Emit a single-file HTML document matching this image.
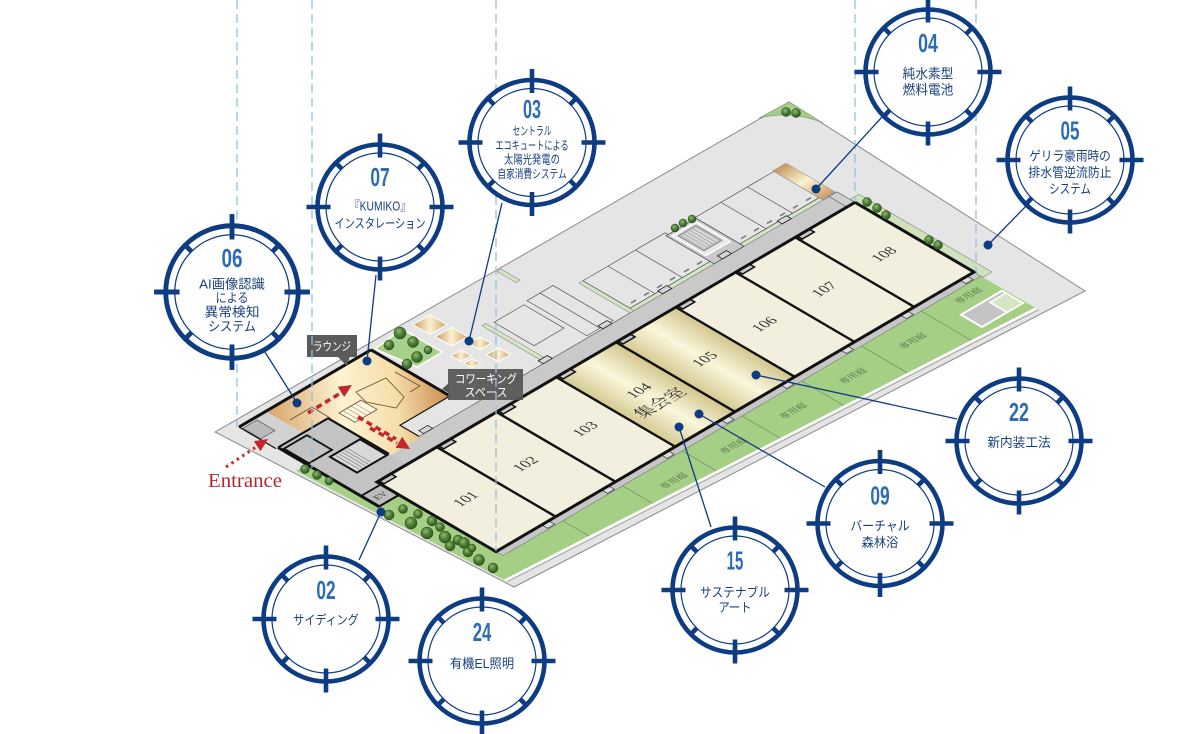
<!DOCTYPE html>
<html><head><meta charset="utf-8">
<style>
html,body{margin:0;padding:0;background:#fff;}
svg{display:block;}
text{font-family:"Liberation Sans","Noto Sans CJK JP",sans-serif;}
.iso *{vector-effect:non-scaling-stroke;}
.num{font-family:"Liberation Sans Narrow","Liberation Sans",sans-serif;font-weight:700;font-size:26px;fill:#2b6cb4;}
.lb{font-size:13px;fill:#17407e;}
.ser,.ser text{font-family:"Liberation Serif","Noto Serif CJK JP",serif;}
.jser,.jser text{font-family:"Noto Serif CJK JP","Noto Serif CJK SC",serif;}
</style></head><body>
<svg width="1200" height="734" viewBox="0 0 1200 734" xmlns="http://www.w3.org/2000/svg">
<defs>
 <radialGradient id="tree" cx="0.4" cy="0.35" r="0.7">
  <stop offset="0" stop-color="#8fbb6c"/><stop offset="0.5" stop-color="#4d7e36"/><stop offset="1" stop-color="#2a531f"/>
 </radialGradient>
 <linearGradient id="lounge" gradientUnits="userSpaceOnUse" x1="255" y1="420" x2="452" y2="395">
  <stop offset="0" stop-color="#d29656"/><stop offset="0.45" stop-color="#fdf3d2"/><stop offset="0.72" stop-color="#f5ddaa"/><stop offset="1" stop-color="#c88847"/>
 </linearGradient>
 <linearGradient id="gold" x1="0" y1="0" x2="1" y2="0">
  <stop offset="0" stop-color="#d5ca93"/><stop offset="0.5" stop-color="#fbf7dc"/><stop offset="1" stop-color="#d2c68d"/>
 </linearGradient>
 <linearGradient id="tan" x1="0" y1="0" x2="1" y2="1">
  <stop offset="0" stop-color="#c99a5b"/><stop offset="0.5" stop-color="#fbf1d3"/><stop offset="1" stop-color="#d1a267"/>
 </linearGradient>
 <linearGradient id="tan2" x1="0" y1="0" x2="0" y2="1">
  <stop offset="0" stop-color="#c8995c"/><stop offset="0.5" stop-color="#fbf2d2"/><stop offset="1" stop-color="#cf9d62"/>
 </linearGradient>
 <g id="ring">
  <circle r="62.5" fill="#fff" stroke="#0e3c82" stroke-width="4.6"/>
  <circle r="54" fill="none" stroke="#0e3c82" stroke-width="1.2"/>
  <g stroke="#0e3c82" stroke-width="4.6">
   <line x1="0" y1="-73.5" x2="0" y2="-49.5"/>
   <line x1="0" y1="73.5" x2="0" y2="49.5"/>
   <line x1="-73.5" y1="0" x2="-49.5" y2="0"/>
   <line x1="73.5" y1="0" x2="49.5" y2="0"/>
   <line x1="37.8" y1="37.8" x2="45" y2="45"/>
   <line x1="-37.8" y1="37.8" x2="-45" y2="45"/>
   <line x1="37.8" y1="-37.8" x2="45" y2="-45"/>
   <line x1="-37.8" y1="-37.8" x2="-45" y2="-45"/>
  </g>
 </g>
</defs>

<!-- lot -->
<polygon points="215,432 789,102 1085,291 514,587" fill="#e5e5e5" stroke="#8a8a8a" stroke-width="1"/>
<path d="M759,118 L789,102 L823,123 Q792,110 759,118 Z" fill="#a4cf84" stroke="#888" stroke-width="0.6"/>

<g class="iso" transform="matrix(1,-0.585,1,0.585,377,482)">
 <!-- green -->
 <polygon points="-31,-50 -20,-50 -20,22 0,22 0,126 478,126 478,181 -20,148" fill="#a4cf84"/>
 <g stroke="#6f8f5f" stroke-width="0.7">
  <line x1="59.75" y1="126" x2="59.75" y2="153.3"/>
  <line x1="119.5" y1="126" x2="119.5" y2="157.2"/>
  <line x1="179.25" y1="126" x2="179.25" y2="161.2"/>
  <line x1="239" y1="126" x2="239" y2="165.2"/>
  <line x1="298.75" y1="126" x2="298.75" y2="169.1"/>
  <line x1="358.5" y1="126" x2="358.5" y2="173.1"/>
  <line x1="418.25" y1="126" x2="418.25" y2="177"/>
 </g>
 <line x1="-20" y1="148" x2="478" y2="181" stroke="#fff" stroke-width="2.2"/>
 <line x1="-20" y1="150.5" x2="478" y2="183.5" stroke="#999" stroke-width="0.8"/>
 <rect x="0" y="119" width="478" height="7" fill="#c6c6c6" stroke="#777" stroke-width="0.6"/>
 <rect x="478" y="-5" width="9" height="133" fill="#cfe2bb" stroke="#888" stroke-width="0.6"/>
 <rect x="435" y="149" width="41" height="21" fill="#c4c4c4" stroke="#fff" stroke-width="2"/>
 <rect x="460" y="153" width="16" height="17" fill="#d4e6c4" stroke="#fff" stroke-width="1.5"/>
 <!-- walkway meter boxes -->
 <g fill="#ddd" stroke="#333" stroke-width="0.7">
  <rect x="45.75" y="120" width="7" height="5"/><rect x="105.5" y="120" width="7" height="5"/>
  <rect x="165.25" y="120" width="7" height="5"/><rect x="225" y="120" width="7" height="5"/>
  <rect x="284.75" y="120" width="7" height="5"/><rect x="344.5" y="120" width="7" height="5"/>
  <rect x="404.25" y="120" width="7" height="5"/><rect x="464" y="120" width="7" height="5"/>
 </g>
 <!-- garden labels -->
 <g class="jser" font-size="8" fill="#55684a" text-anchor="middle">
  <text x="149.4" y="150">専用庭</text><text x="209.1" y="150">専用庭</text>
  <text x="268.9" y="150">専用庭</text><text x="328.6" y="150">専用庭</text>
  <text x="388.4" y="150">専用庭</text><text x="455" y="139">専用庭</text>
 </g>

 <!-- corridor -->
 <rect x="-5" y="-18" width="483" height="18" fill="#c9c9c9"/>
 <line x1="30" y1="-18" x2="478" y2="-18" stroke="#666" stroke-width="0.8"/>
 <!-- entrance hall / core -->
 <polygon points="-22,-116 5,-116 5,-79 -22,-79" fill="#d2d2d2"/>
 <rect x="-21" y="-113" width="14" height="18" fill="#bbb" stroke="#666" stroke-width="0.8"/>
 <polygon points="-20,-79 30,-79 30,0 0,0 0,22 -20,22" fill="#c3c3c3"/>
 <rect x="-2" y="-45" width="30" height="27" fill="#d8d8d8" stroke="#111" stroke-width="2"/>
 <g stroke="#777" stroke-width="0.6">
  <line x1="2" y1="-43" x2="2" y2="-20"/><line x1="5" y1="-43" x2="5" y2="-20"/><line x1="8" y1="-43" x2="8" y2="-20"/>
  <line x1="11" y1="-43" x2="11" y2="-20"/><line x1="14" y1="-43" x2="14" y2="-20"/>
 </g>
 <rect x="-18" y="-75" width="23" height="25" fill="none" stroke="#111" stroke-width="1.8"/>
 <rect x="-20" y="4" width="20" height="18" fill="#bdbdbd" stroke="#111" stroke-width="1.8"/>
 <text x="-10" y="16" class="ser" font-size="8" fill="#333" text-anchor="middle">EV</text>

 <!-- parking -->
 <g fill="#d3e5c2" stroke="#8a8a8a" stroke-width="0.6">
  <rect x="186" y="-81" width="4" height="63"/>
  <rect x="240" y="-120" width="4" height="19"/>
  <rect x="271" y="-69" width="4" height="51"/>
  <rect x="275" y="-22" width="82" height="4"/>
  <rect x="385" y="-22" width="79" height="4"/>
 </g>
 <g fill="none" stroke="#555" stroke-width="0.7">
  <rect x="275" y="-69" width="82" height="47"/>
  <line x1="300" y1="-69" x2="300" y2="-22"/><line x1="327.5" y1="-69" x2="327.5" y2="-22"/>
  <rect x="385" y="-67" width="79" height="45"/>
  <line x1="411" y1="-67" x2="411" y2="-22"/><line x1="437.5" y1="-67" x2="437.5" y2="-22"/>
  <rect x="230" y="-80" width="26" height="60"/>
  <line x1="243" y1="-80" x2="243" y2="-20"/>
  <rect x="195" y="-78" width="30" height="40"/>
 </g>
 <g stroke="#7a7a7a" stroke-width="1.6">
  <line x1="280" y1="-26" x2="285" y2="-26"/><line x1="293" y1="-26" x2="298" y2="-26"/>
  <line x1="306" y1="-26" x2="311" y2="-26"/><line x1="319" y1="-26" x2="324" y2="-26"/>
  <line x1="333" y1="-26" x2="338" y2="-26"/><line x1="346" y1="-26" x2="351" y2="-26"/>
  <line x1="390" y1="-26" x2="395" y2="-26"/><line x1="403" y1="-26" x2="408" y2="-26"/>
  <line x1="416" y1="-26" x2="421" y2="-26"/><line x1="429" y1="-26" x2="434" y2="-26"/>
  <line x1="442" y1="-26" x2="447" y2="-26"/><line x1="455" y1="-26" x2="460" y2="-26"/>
 </g>
 <rect x="355" y="-66" width="30" height="48" fill="#c9c9c9" stroke="#555" stroke-width="0.8"/>
 <rect x="358" y="-63" width="24" height="34" fill="#e8e8e8" stroke="#fff" stroke-width="1.4"/>
 <rect x="361" y="-60" width="18" height="26" fill="#bdbdbd" stroke="#666" stroke-width="0.6"/>
 <g stroke="#fff" stroke-width="0.7">
  <line x1="364" y1="-58" x2="364" y2="-36"/><line x1="367" y1="-58" x2="367" y2="-36"/>
  <line x1="370" y1="-58" x2="370" y2="-36"/><line x1="373" y1="-58" x2="373" y2="-36"/><line x1="376" y1="-58" x2="376" y2="-36"/>
 </g>
 <rect x="464" y="-68" width="13" height="49" fill="url(#tan2)" stroke="#999" stroke-width="0.6"/>
 <rect x="470" y="-18" width="8" height="18" fill="#d0d0d0" stroke="#555" stroke-width="0.6"/>

 <!-- units -->
 <g stroke="none">
  <rect x="0" y="0" width="59.75" height="119" fill="#f3efdf"/>
  <rect x="59.75" y="0" width="59.75" height="119" fill="#f3efdf"/>
  <rect x="119.5" y="0" width="59.75" height="119" fill="#f3efdf"/>
  <rect x="179.25" y="0" width="59.75" height="119" fill="url(#gold)"/>
  <rect x="239" y="0" width="59.75" height="119" fill="url(#gold)"/>
  <rect x="298.75" y="0" width="59.75" height="119" fill="#f3efdf"/>
  <rect x="358.5" y="0" width="59.75" height="119" fill="#f3efdf"/>
  <rect x="418.25" y="0" width="59.75" height="119" fill="#f3efdf"/>
 </g>
</g>

<!-- lounge (screen coords) -->
<polygon points="266,411.2 371,349.7 450,396 400,425.3 421,437.5 391,455 328,418.2 303,432.9" fill="url(#lounge)"/>
<polygon points="375,349 402,329 442,352 417,367" fill="#a7d08a" stroke="#fff" stroke-width="1.5"/>
<g fill="none" stroke="#6b4a2a" stroke-width="0.8">
 <polygon points="356,392 386,378 404,397 396,408 366,402"/>
 <polyline points="290,420 312,407 330,418"/>
 <polyline points="395,372 420,386 410,392"/>
</g>

<g class="iso" transform="matrix(1,-0.585,1,0.585,377,482)">
 <!-- coworking squares -->
 <g fill="url(#tan)" stroke="#fff" stroke-width="1">
  <rect x="152.5" y="-116.5" width="17" height="17"/>
  <rect x="153.5" y="-95" width="16" height="16"/>
  <rect x="164.5" y="-72.5" width="11" height="11"/>
  <rect x="145" y="-71" width="10" height="10"/>
  <rect x="145" y="-58" width="8" height="8"/>
  <rect x="163.5" y="-54" width="12" height="12"/>
 </g>
 <!-- lounge stair -->
 <rect x="40" y="-78" width="22" height="16" fill="#fff8e0" stroke="#6b4a2a" stroke-width="0.8"/>
 <g stroke="#8a6a4a" stroke-width="0.5">
  <line x1="44" y1="-78" x2="44" y2="-62"/><line x1="48" y1="-78" x2="48" y2="-62"/>
  <line x1="52" y1="-78" x2="52" y2="-62"/><line x1="56" y1="-78" x2="56" y2="-62"/>
 </g>
 <!-- corridor boxes & alcoves -->
 <g fill="#d6d6d6" stroke="#222" stroke-width="0.8">
  <rect x="64.75" y="-23" width="9" height="5"/><rect x="124.5" y="-23" width="9" height="5"/>
  <rect x="184.25" y="-23" width="9" height="5"/><rect x="244" y="-23" width="9" height="5"/>
  <rect x="303.75" y="-23" width="9" height="5"/><rect x="363.5" y="-23" width="9" height="5"/>
  <rect x="423.25" y="-23" width="9" height="5"/>
 </g>
 <g fill="#c9c9c9" stroke="#111" stroke-width="1.5">
  <rect x="2" y="0" width="12" height="5"/><rect x="61.75" y="0" width="12" height="5"/>
  <rect x="121.5" y="0" width="12" height="5"/><rect x="181.25" y="0" width="12" height="5"/>
  <rect x="241" y="0" width="12" height="5"/><rect x="300.75" y="0" width="12" height="5"/>
  <rect x="360.5" y="0" width="12" height="5"/><rect x="420.25" y="0" width="12" height="5"/>
 </g>
 <!-- walls -->
 <g stroke="#111" fill="none">
  <rect x="0" y="0" width="478" height="119" stroke-width="3"/>
  <g stroke-width="2.4">
   <line x1="59.75" y1="0" x2="59.75" y2="119"/><line x1="119.5" y1="0" x2="119.5" y2="119"/>
   <line x1="179.25" y1="0" x2="179.25" y2="119"/><line x1="239" y1="0" x2="239" y2="119"/>
   <line x1="298.75" y1="0" x2="298.75" y2="119"/><line x1="358.5" y1="0" x2="358.5" y2="119"/>
   <line x1="418.25" y1="0" x2="418.25" y2="119"/>
  </g>
  <line x1="-22" y1="-116" x2="110" y2="-116" stroke-width="3"/>
  <line x1="110" y1="-116" x2="110" y2="-37" stroke-width="3"/>
  <polyline points="110,-37 60,-37 60,-18" stroke-width="1.2"/>
  <line x1="-20" y1="-79" x2="-20" y2="22" stroke-width="3"/>
  <line x1="-20" y1="-79" x2="30" y2="-79" stroke-width="2"/>
  <line x1="30" y1="-79" x2="30" y2="-18" stroke-width="2.2"/>
  <line x1="-22" y1="-116" x2="-22" y2="-79" stroke-width="1.2"/>
  <line x1="-20" y1="22" x2="0" y2="22" stroke-width="2"/>
 </g>
 <!-- unit labels -->
 <g class="ser" font-size="13" fill="#333" text-anchor="middle">
  <text x="29.9" y="63">101</text><text x="89.6" y="63">102</text>
  <text x="149.4" y="63">103</text><text x="209.1" y="57">104</text>
  <text x="268.9" y="63">105</text><text x="328.6" y="63">106</text>
  <text x="388.4" y="63">107</text><text x="448.1" y="63">108</text>
 </g>
 <text x="209.1" y="79" class="jser" font-size="15" fill="#333" text-anchor="middle">集会室</text>
</g>

<!-- trees -->
<g fill="url(#tree)" stroke="#24461b" stroke-width="0.5">
 <circle cx="400" cy="333" r="6"/><circle cx="413" cy="342" r="5.5"/><circle cx="389" cy="345" r="5"/>
 <circle cx="417" cy="357" r="5.5"/><circle cx="407" cy="364" r="5"/><circle cx="428" cy="350" r="4"/>
 <circle cx="786" cy="112" r="4.5"/><circle cx="796" cy="113" r="4.5"/>
 <circle cx="675" cy="228" r="4"/><circle cx="683" cy="223" r="4"/><circle cx="692" cy="219" r="4"/>
 <circle cx="867" cy="202" r="4.5"/><circle cx="877" cy="208" r="4.5"/><circle cx="886" cy="215" r="4.5"/>
 <circle cx="929" cy="240" r="4.5"/><circle cx="938" cy="245" r="4.5"/>
 <circle cx="305" cy="469" r="4.5"/><circle cx="317" cy="475" r="4.5"/><circle cx="329" cy="481" r="4"/>
 <circle cx="389" cy="515" r="5"/><circle cx="403" cy="509" r="4.5"/><circle cx="411" cy="523" r="6"/>
 <circle cx="418" cy="514" r="4.5"/><circle cx="427" cy="533" r="6"/><circle cx="432" cy="521" r="5"/>
 <circle cx="440" cy="527" r="4.5"/><circle cx="445" cy="537" r="6"/><circle cx="450" cy="546" r="5"/>
 <circle cx="458" cy="540" r="5"/><circle cx="464" cy="543" r="5.5"/><circle cx="468" cy="552" r="5"/>
 <circle cx="472" cy="548" r="4"/><circle cx="479" cy="560" r="5.5"/><circle cx="493" cy="568" r="5"/>
</g>

<!-- red arrows -->
<g fill="#c1272d" stroke="none">
 <line x1="226" y1="467" x2="256" y2="447" stroke="#c1272d" stroke-width="3" stroke-dasharray="2.5 4"/>
 <polygon points="268,439 260.5,451.2 253.9,441.2"/>
 <line x1="308" y1="413" x2="339" y2="394" stroke="#c1272d" stroke-width="3.5" stroke-dasharray="6 4"/>
 <polygon points="352,385 344.2,397 337.8,386.8"/>
 <line x1="358" y1="417" x2="396" y2="439" stroke="#c1272d" stroke-width="3.5" stroke-dasharray="6 4"/>
 <line x1="370" y1="428" x2="397" y2="443" stroke="#c1272d" stroke-width="3.5" stroke-dasharray="6 4"/>
 <polygon points="410,449 395.6,447.9 402.2,436.7"/>
</g>
<text x="208" y="487" class="ser" font-size="19.5" fill="#b5282e" textLength="74" lengthAdjust="spacingAndGlyphs">Entrance</text>

<!-- labels -->
<rect x="307" y="335" width="50" height="22" fill="#5b5b5b"/>
<polygon points="337,356 350,356 347,366" fill="#5b5b5b"/>
<text x="332" y="350.5" font-size="12" fill="#fff" text-anchor="middle" textLength="38" lengthAdjust="spacingAndGlyphs">ラウンジ</text>
<rect x="448" y="369" width="75" height="31" fill="#555" fill-opacity="0.92"/>
<polygon points="449,383 442,389 449,393" fill="#555"/>
<text x="486" y="383" font-size="12" fill="#fff" text-anchor="middle" textLength="62" lengthAdjust="spacingAndGlyphs">コワーキング</text>
<text x="486" y="396.5" font-size="12" fill="#fff" text-anchor="middle" textLength="43" lengthAdjust="spacingAndGlyphs">スペース</text>

<!-- dashed guides -->
<g stroke="#8ec3e3" stroke-width="1.3" stroke-dasharray="9 5">
 <line x1="237" y1="0" x2="237" y2="427"/>
 <line x1="312" y1="0" x2="312" y2="468"/>
 <line x1="496" y1="0" x2="496" y2="551"/>
 <line x1="855" y1="0" x2="855" y2="202"/>
 <line x1="976" y1="0" x2="976" y2="272"/>
</g>

<!-- connectors -->
<g stroke="#0e3c82" stroke-width="1.3">
 <line x1="265" y1="352" x2="297" y2="403"/>
 <line x1="376" y1="275" x2="367" y2="361"/>
 <line x1="502" y1="203" x2="469" y2="341"/>
 <line x1="882" y1="117" x2="816" y2="189"/>
 <line x1="1032" y1="200" x2="988" y2="245"/>
 <line x1="957" y1="419" x2="756" y2="375"/>
 <line x1="825" y1="487" x2="699" y2="414"/>
 <line x1="711" y1="527" x2="679" y2="427"/>
 <line x1="359" y1="560" x2="381" y2="512"/>
</g>
<g fill="#0e3c82">
 <circle cx="297" cy="403" r="4.5"/><circle cx="367" cy="361" r="4.5"/><circle cx="469" cy="341" r="4.5"/>
 <circle cx="816" cy="189" r="4.5"/><circle cx="988" cy="245" r="4.5"/><circle cx="756" cy="375" r="4.5"/>
 <circle cx="699" cy="414" r="4.5"/><circle cx="679" cy="427" r="4.5"/><circle cx="381" cy="512" r="4.5"/>
</g>

<!-- circles -->
<use href="#ring" transform="translate(232,292) scale(1.06)"/>
<use href="#ring" transform="translate(380,207)"/>
<use href="#ring" transform="translate(532,142.5)"/>
<use href="#ring" transform="translate(928,72)"/>
<use href="#ring" transform="translate(1070,160)"/>
<use href="#ring" transform="translate(1019,441)"/>
<use href="#ring" transform="translate(880,523.5)"/>
<use href="#ring" transform="translate(735,590)"/>
<use href="#ring" transform="translate(326,619)"/>
<use href="#ring" transform="translate(482,661)"/>

<g text-anchor="middle">
 <text class="num" x="232" y="266.8" textLength="21" lengthAdjust="spacingAndGlyphs">06</text>
 <text class="num" x="380" y="186" textLength="19.3" lengthAdjust="spacingAndGlyphs">07</text>
 <text class="num" x="532" y="117.8" textLength="18" lengthAdjust="spacingAndGlyphs">03</text>
 <text class="num" x="928" y="52.2" textLength="19.7" lengthAdjust="spacingAndGlyphs">04</text>
 <text class="num" x="1070" y="139.5" textLength="19" lengthAdjust="spacingAndGlyphs">05</text>
 <text class="num" x="1019" y="421.2" textLength="20" lengthAdjust="spacingAndGlyphs">22</text>
 <text class="num" x="880" y="504.5" textLength="19.3" lengthAdjust="spacingAndGlyphs">09</text>
 <text class="num" x="735" y="569.5" textLength="16.7" lengthAdjust="spacingAndGlyphs">15</text>
 <text class="num" x="326" y="598.8" textLength="19.3" lengthAdjust="spacingAndGlyphs">02</text>
 <text class="num" x="482" y="641.2" textLength="18.6" lengthAdjust="spacingAndGlyphs">24</text>
</g>

<g class="lb" text-anchor="middle" dominant-baseline="central">
 <text x="232" y="284" textLength="65.7" lengthAdjust="spacingAndGlyphs">AI画像認識</text>
 <text x="232" y="298" textLength="33" lengthAdjust="spacingAndGlyphs">による</text>
 <text x="232" y="312" textLength="55" lengthAdjust="spacingAndGlyphs">異常検知</text>
 <text x="232" y="326.7" textLength="47.7" lengthAdjust="spacingAndGlyphs">システム</text>

 <text x="380" y="206" textLength="61.3" lengthAdjust="spacingAndGlyphs">『KUMIKO』</text>
 <text x="380" y="223.3" textLength="91" lengthAdjust="spacingAndGlyphs">インスタレーション</text>

 <text x="532" y="131" font-size="12" textLength="39" lengthAdjust="spacingAndGlyphs">セントラル</text>
 <text x="532" y="145.7" font-size="12" textLength="73.3" lengthAdjust="spacingAndGlyphs">エコキュートによる</text>
 <text x="532" y="159.3" font-size="12" textLength="56" lengthAdjust="spacingAndGlyphs">太陽光発電の</text>
 <text x="532" y="174" font-size="12" textLength="69.3" lengthAdjust="spacingAndGlyphs">自家消費システム</text>

 <text x="928" y="74" font-size="13.5" textLength="50.7" lengthAdjust="spacingAndGlyphs">純水素型</text>
 <text x="928" y="90" font-size="13.5" textLength="50.7" lengthAdjust="spacingAndGlyphs">燃料電池</text>

 <text x="1070" y="156" textLength="81.7" lengthAdjust="spacingAndGlyphs">ゲリラ豪雨時の</text>
 <text x="1070" y="172.5" textLength="83.3" lengthAdjust="spacingAndGlyphs">排水管逆流防止</text>
 <text x="1070" y="189" textLength="41.7" lengthAdjust="spacingAndGlyphs">システム</text>

 <text x="1019" y="442.7" textLength="63.3" lengthAdjust="spacingAndGlyphs">新内装工法</text>

 <text x="880" y="526" textLength="59.3" lengthAdjust="spacingAndGlyphs">バーチャル</text>
 <text x="880" y="542.3" textLength="36.7" lengthAdjust="spacingAndGlyphs">森林浴</text>

 <text x="735" y="592.7" textLength="70" lengthAdjust="spacingAndGlyphs">サステナブル</text>
 <text x="735" y="607.7" textLength="33.3" lengthAdjust="spacingAndGlyphs">アート</text>

 <text x="326" y="620" textLength="65.4" lengthAdjust="spacingAndGlyphs">サイディング</text>
 <text x="482" y="663.3" textLength="64.3" lengthAdjust="spacingAndGlyphs">有機EL照明</text>
</g>
</svg>
</body></html>
